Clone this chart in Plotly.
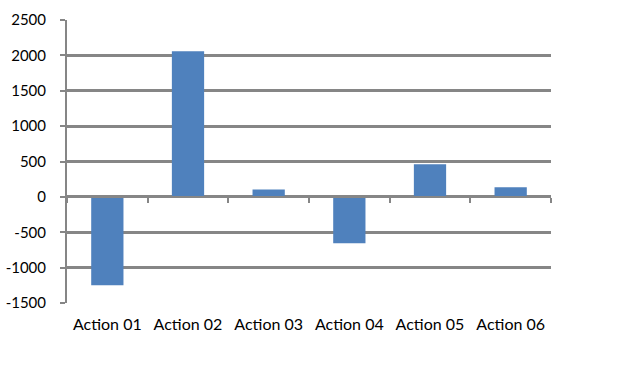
import plotly.graph_objects as go

categories = ["Action 01", "Action 02", "Action 03", "Action 04", "Action 05", "Action 06"]
values = [-1250, 2060, 105, -655, 460, 135]
y_ticks = [-1500, -1000, -500, 0, 500, 1000, 1500, 2000, 2500]
y_tick_labels = ["-1500", "-1000", "-500", "0", "500", "1000", "1500", "2000", "2500"]

GRAY = "#868686"
BLUE = "#4F81BD"
FONT = dict(family="Lato, Carlito, Liberation Sans, sans-serif", size=16, color="#000000")
YFONT = dict(family="Lato, Carlito, Liberation Sans, sans-serif", size=15, color="#000000")

fig = go.Figure()
fig.add_trace(go.Bar(x=categories, y=values, marker=dict(color=BLUE, line=dict(width=0)),
                     xaxis="x", yaxis="y", showlegend=False, hoverinfo="x+y"))
# helper empty trace so the zero-line category axis (with boundary ticks) is drawn
fig.add_trace(go.Bar(x=categories, y=[None] * len(categories), xaxis="x2", yaxis="y",
                     showlegend=False, hoverinfo="skip"))

fig.update_layout(
    width=624, height=368,
    margin=dict(l=67, r=73, t=20, b=65, autoexpand=False),
    paper_bgcolor="white", plot_bgcolor="white",
    font=FONT,
    bargap=0.6,
    xaxis=dict(type="category", categoryorder="array", categoryarray=categories,
               showline=False, showgrid=False, ticks="", ticklabelstandoff=10,
               tickfont=FONT, zeroline=False, automargin=False),
    xaxis2=dict(type="category", overlaying="x", matches="x", anchor="free", position=0.375,
                showline=True, linecolor=GRAY, linewidth=2, ticks="outside", tickson="boundaries",
                ticklen=5, tickwidth=2, tickcolor=GRAY, showticklabels=False, showgrid=False,
                automargin=False),
    yaxis=dict(range=[-1500, 2500], tickvals=y_ticks, ticktext=y_tick_labels,
               showgrid=True, gridcolor=GRAY, gridwidth=2.5,
               showline=True, linecolor=GRAY, linewidth=2, ticks="outside", ticklen=5,
               tickwidth=2, tickcolor=GRAY, zeroline=False, tickfont=YFONT,
               ticklabelstandoff=11, automargin=False),
)

fig.write_html("out.html", config={"displayModeBar": False},
               post_script="document.body.style.margin='0';document.body.style.padding='0';")
